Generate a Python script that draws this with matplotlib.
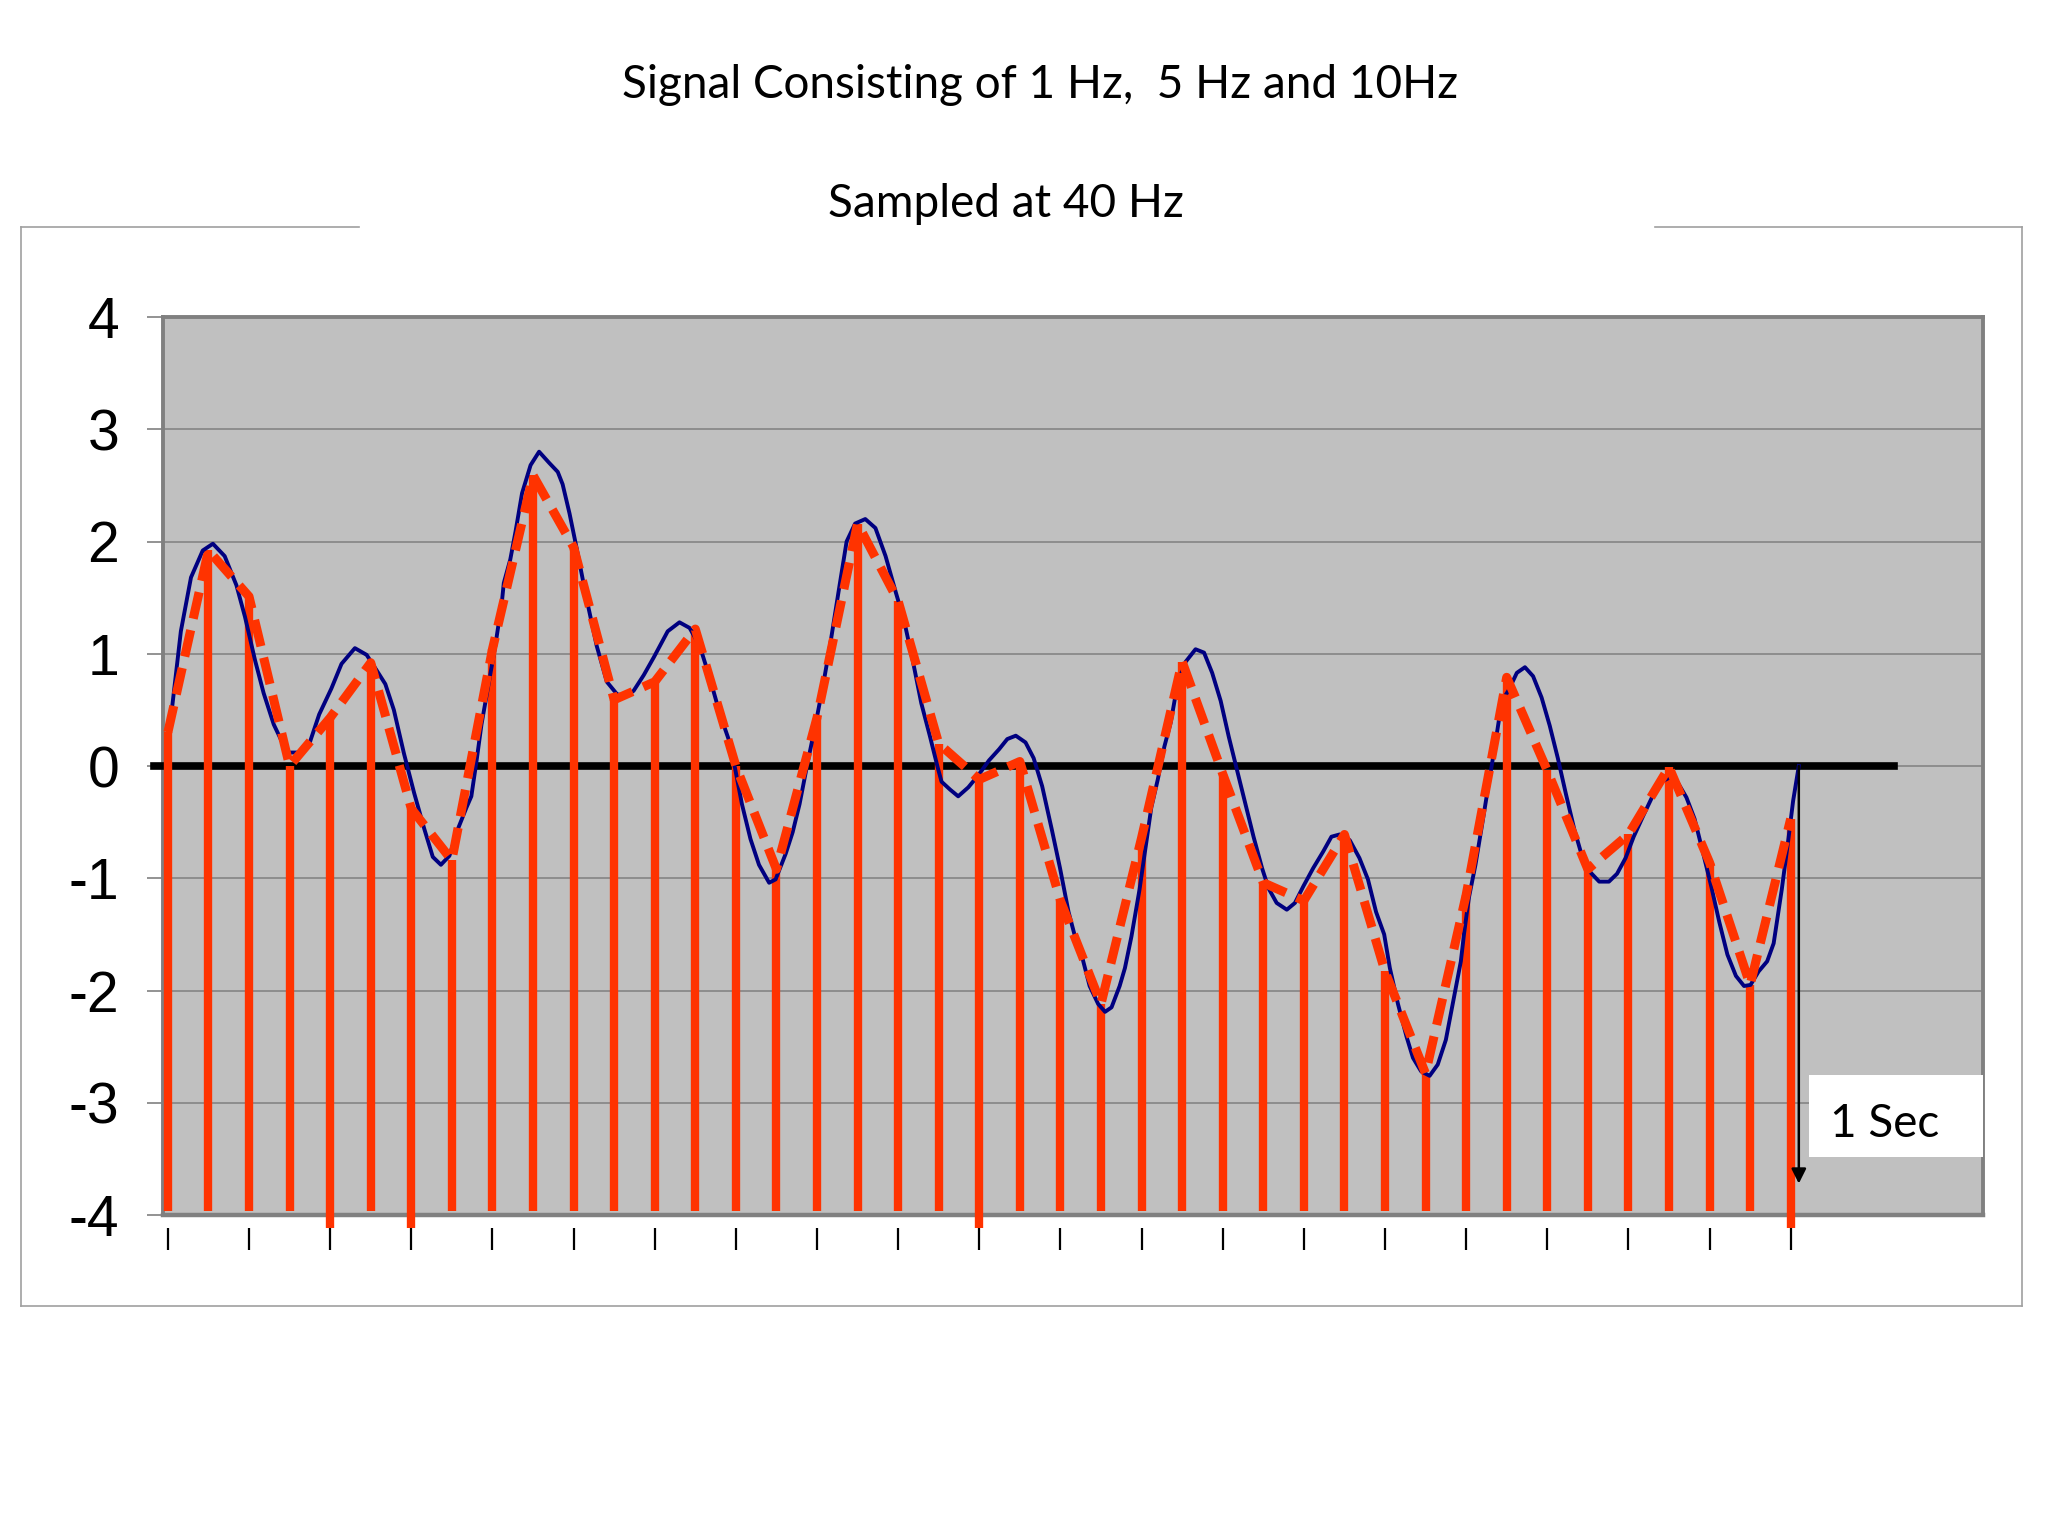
import numpy as np
import matplotlib.pyplot as plt
from matplotlib.lines import Line2D
from matplotlib.patches import Rectangle

# --------------------------------------------------
# 1. Data
# --------------------------------------------------
sample_rate = 40  # Hz

# sampled values (one per 1/40 s, 0 .. 1 s)
sample_values = [0.30, 1.92, 1.51, 0.00, 0.43, 0.92, -0.38, -0.84, 1.04, 2.59,
                 1.95, 0.59, 0.75, 1.22, 0.00, -0.92, 0.43, 2.16, 1.47, 0.20,
                 -0.12, 0.04, -1.20, -2.12, -0.64, 0.93, -0.07, -1.04, -1.20, -0.61,
                 -1.83, -2.74, -1.15, 0.79, -0.04, -0.92, -0.61, -0.01, -0.86, -1.95,
                 -0.47]

# stems that run a little past the bottom of the plot
long_stems = [4, 6, 20, 40]

# continuous signal (position in sample periods, value)
signal_pos = [0.05, 0.32, 0.57, 0.86, 1.11, 1.40, 1.69, 1.90, 2.15, 2.36,
              2.61, 2.86, 2.98, 3.32, 3.48, 3.73, 4.03, 4.28, 4.61, 4.90,
              5.15, 5.36, 5.57, 5.82, 6.07, 6.32, 6.53, 6.73, 6.94, 7.15,
              7.36, 7.48, 7.61, 7.73, 7.90, 8.07, 8.23, 8.28, 8.44, 8.57,
              8.73, 8.94, 9.15, 9.40, 9.61, 9.73, 9.90, 10.07, 10.32, 10.57,
              10.82, 11.07, 11.28, 11.48, 11.73, 11.98, 12.32, 12.61, 12.86, 13.11,
              13.36, 13.61, 13.82, 13.98, 14.15, 14.36, 14.57, 14.82, 14.98, 15.23,
              15.40, 15.57, 15.78, 15.98, 16.15, 16.32, 16.53, 16.73, 16.94, 17.19,
              17.44, 17.69, 17.94, 18.15, 18.36, 18.57, 18.78, 18.98, 19.07, 19.28,
              19.48, 19.73, 19.98, 20.24, 20.49, 20.69, 20.90, 21.14, 21.34, 21.55,
              21.79, 21.99, 22.20, 22.36, 22.52, 22.72, 22.93, 23.10, 23.26, 23.46,
              23.59, 23.75, 23.95, 24.07, 24.24, 24.40, 24.56, 24.72, 24.89, 25.09,
              25.33, 25.54, 25.74, 25.95, 26.15, 26.32, 26.52, 26.76, 26.97, 27.13,
              27.33, 27.58, 27.78, 27.99, 28.23, 28.48, 28.68, 28.88, 29.13, 29.37,
              29.58, 29.78, 29.98, 30.12, 30.32, 30.53, 30.69, 30.89, 31.10, 31.30,
              31.50, 31.70, 31.87, 31.95, 32.07, 32.23, 32.39, 32.56, 32.72, 32.88,
              33.04, 33.25, 33.45, 33.65, 33.86, 34.06, 34.26, 34.46, 34.67, 34.87,
              35.07, 35.28, 35.52, 35.72, 35.93, 36.13, 36.37, 36.62, 36.82, 37.03,
              37.22, 37.43, 37.63, 37.83, 38.04, 38.24, 38.44, 38.65, 38.85, 39.01,
              39.21, 39.42, 39.58, 39.66, 39.78, 39.94, 40.06, 40.20]
signal_values = [0.35, 1.20, 1.68, 1.92, 1.98, 1.87, 1.61, 1.33, 0.94, 0.65,
                 0.37, 0.18, 0.12, 0.12, 0.19, 0.46, 0.69, 0.91, 1.05, 0.99,
                 0.85, 0.73, 0.50, 0.11, -0.24, -0.56, -0.81, -0.88, -0.80, -0.56,
                 -0.37, -0.27, 0.05, 0.37, 0.72, 1.07, 1.45, 1.63, 1.84, 2.09,
                 2.43, 2.68, 2.80, 2.70, 2.62, 2.51, 2.25, 1.95, 1.49, 1.07,
                 0.75, 0.64, 0.62, 0.67, 0.81, 0.97, 1.20, 1.28, 1.23, 1.07,
                 0.78, 0.46, 0.24, -0.02, -0.34, -0.65, -0.88, -1.04, -1.01, -0.78,
                 -0.59, -0.34, 0.05, 0.40, 0.72, 1.07, 1.55, 2.00, 2.16, 2.20,
                 2.12, 1.87, 1.55, 1.29, 0.94, 0.56, 0.27, -0.02, -0.14, -0.21,
                 -0.27, -0.19, -0.08, 0.05, 0.15, 0.24, 0.27, 0.21, 0.07, -0.18,
                 -0.57, -0.91, -1.30, -1.52, -1.68, -1.96, -2.12, -2.19, -2.15, -1.96,
                 -1.80, -1.52, -1.10, -0.80, -0.37, -0.12, 0.17, 0.39, 0.74, 0.93,
                 1.04, 1.01, 0.83, 0.58, 0.26, 0.01, -0.28, -0.63, -0.91, -1.09,
                 -1.22, -1.28, -1.22, -1.07, -0.91, -0.76, -0.63, -0.61, -0.66, -0.82,
                 -1.01, -1.30, -1.50, -1.80, -2.12, -2.41, -2.60, -2.72, -2.76, -2.66,
                 -2.44, -2.06, -1.74, -1.49, -1.17, -0.88, -0.53, -0.15, 0.20, 0.58,
                 0.67, 0.83, 0.88, 0.80, 0.61, 0.36, 0.07, -0.25, -0.57, -0.82,
                 -0.95, -1.03, -1.03, -0.96, -0.82, -0.63, -0.44, -0.25, -0.14, -0.10,
                 -0.15, -0.28, -0.47, -0.76, -1.07, -1.39, -1.68, -1.87, -1.96, -1.95,
                 -1.83, -1.74, -1.58, -1.39, -1.10, -0.66, -0.31, 0.00]

y_ticks = [-4, -3, -2, -1, 0, 1, 2, 3, 4]

title_line1 = "Signal Consisting of 1 Hz,  5 Hz and 10Hz"
title_line2 = "Sampled at 40 Hz"
marker_label = "1 Sec"

# --------------------------------------------------
# 2. Derived arrays
# --------------------------------------------------
n = len(sample_values)
t_samples = np.arange(n) / sample_rate
t_signal = np.array(signal_pos) / sample_rate
stem_bottom = np.where(np.isin(np.arange(n), long_stems), -4.12, -3.96)

ORANGE = "#FF3300"
NAVY = "#000080"
GRAY = "#808080"

# --------------------------------------------------
# 3. Figure / axes layout
# --------------------------------------------------
W, H = 2048, 1536
fig = plt.figure(figsize=(W / 100, H / 100), dpi=100)
fig.patch.set_facecolor("white")

ax = fig.add_axes([163 / W, 1 - 1215 / H, (1983 - 163) / W, (1215 - 317) / H])
ax.set_facecolor("#C0C0C0")
ax.set_xlim(-0.003, 1.1185)
ax.set_ylim(-4, 4)

# outer frame of the slide chart (top edge is broken by the titles)
frame = dict(color="#A0A0A0", lw=1.2, transform=fig.transFigure)
fx0, fx1 = 21 / W, 2022 / W
fy0, fy1 = 1 - 1306 / H, 1 - 227 / H
fig.add_artist(Line2D([fx0, fx0], [fy0, fy1], **frame))
fig.add_artist(Line2D([fx1, fx1], [fy0, fy1], **frame))
fig.add_artist(Line2D([fx0, fx1], [fy0, fy0], **frame))
fig.add_artist(Line2D([fx0, 359 / W], [fy1, fy1], **frame))
fig.add_artist(Line2D([1655 / W, fx1], [fy1, fy1], **frame))

# --------------------------------------------------
# 4. Axes styling
# --------------------------------------------------
for side in ["left", "top", "right"]:
    ax.spines[side].set_color(GRAY)
    ax.spines[side].set_linewidth(2.8)
ax.spines["bottom"].set_position(("outward", 9))
ax.spines["bottom"].set_visible(False)
ax.axhline(-4, color=GRAY, lw=3.2, clip_on=False, zorder=2.6)

ax.set_yticks(y_ticks)
ax.set_yticklabels([str(v) for v in y_ticks], family="Liberation Sans")
ax.tick_params(axis="y", direction="out", length=11.5, width=1.2, color=GRAY,
               labelsize=41, pad=20)
ax.yaxis.grid(True, color=GRAY, lw=1.1)
ax.set_axisbelow(True)

ax.set_xticks(np.arange(0, 1.0001, 0.05))
ax.set_xticklabels([])
ax.tick_params(axis="x", direction="out", length=16, width=1.6, color="black")

# --------------------------------------------------
# 5. Signal, samples and zero line
# --------------------------------------------------
ax.axhline(0, xmin=-0.005, xmax=0.951, color="black", lw=5.5, clip_on=False, zorder=3)

ax.vlines(t_samples, stem_bottom, sample_values, color=ORANGE, lw=6,
          zorder=4, clip_on=False)
ax.plot(t_signal, signal_values, color=NAVY, lw=2.8, zorder=5,
        solid_joinstyle="round")
ax.plot(t_samples, sample_values, color=ORANGE, lw=6.5, dashes=(3.0, 1.3),
        dash_capstyle="butt", dash_joinstyle="round", zorder=6)

# "1 Sec" marker
t_end = t_signal[-1]
ax.annotate("", xy=(t_end, -3.72), xytext=(t_end, 0),
            arrowprops=dict(arrowstyle="-|>", color="black", lw=1.8,
                            mutation_scale=22, shrinkA=0, shrinkB=0),
            zorder=7)
ax.add_patch(Rectangle((1.011, -3.48), 1.1185 - 1.011, 0.73, facecolor="white",
                       edgecolor="none", zorder=8, clip_on=False))
ax.text(1.024, -3.19, marker_label, fontsize=33, family="Lato",
        ha="left", va="center", zorder=9)

# --------------------------------------------------
# 6. Titles
# --------------------------------------------------
fig.text(1040 / W, 1 - 85 / H, title_line1, fontsize=33, family="Lato",
         ha="center", va="center")
fig.text(1006 / W, 1 - 204 / H, title_line2, fontsize=33, family="Lato",
         ha="center", va="center")

fig.savefig("out.png", dpi=100, facecolor="white")
